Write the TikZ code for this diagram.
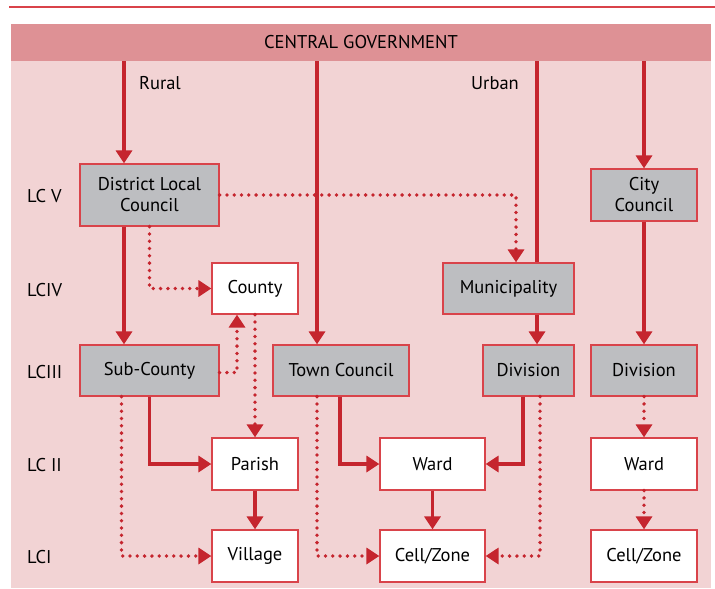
\documentclass[tikz,border=0pt]{standalone}
\usepackage{fontspec}
\setmainfont{PT Sans}
\usetikzlibrary{arrows.meta,positioning}
\definecolor{linered}{HTML}{C5252E}
\definecolor{edgered}{HTML}{D9434A}
\definecolor{bgpink}{HTML}{F2D3D4}
\definecolor{headpink}{HTML}{DE9195}
\definecolor{boxgrey}{HTML}{BDBEC1}

\begin{document}
\begin{tikzpicture}[x=1pt,y=-1pt,>={Triangle[width=16pt,length=13pt]},
  every node/.style={font=\fontsize{18.5}{21}\selectfont,inner sep=0pt},
  box/.style={draw=edgered,line width=1.2pt,minimum height=51pt,align=center},
  grey/.style={box,fill=boxgrey},
  white/.style={box,fill=white},
  flow/.style={draw=linered,line width=3.5pt},
  link/.style={draw=linered,line width=3.8pt,line cap=round,dash pattern=on 0pt off 7.3pt}]

  \useasboundingbox (0,0) rectangle (715,589);
  \fill[bgpink] (11,24) rectangle (711,588);
  \draw[edgered,line width=1.2pt] (9,7) -- (715,7);

  \node[fill=headpink,minimum width=700pt,minimum height=37pt] (gov) at (361,42.5) {CENTRAL GOVERNMENT};
  \node[anchor=west] (rurallabel) at (139,83) {Rural};
  \node[anchor=east] (urbanlabel) at (519,83) {Urban};

  \node[anchor=west] (lc5) at (27,196) {LC V};
  \node[anchor=west] (lc4) at (27,290) {LCIV};
  \node[anchor=west] (lc3) at (27,372) {LCIII};
  \node[anchor=west] (lc2) at (27,465) {LC II};
  \node[anchor=west] (lc1) at (27,557) {LCI};

  \node[grey,minimum width=139pt,minimum height=62pt] (district) at (149.5,195) {District Local\\Council};
  \node[white,minimum width=86pt] (county) at (255,288.5) {County};
  \node[grey,minimum width=139pt] (subcounty) at (149.5,370.5) {Sub-County};
  \node[white,minimum width=86pt,minimum height=52pt] (parish) at (255,464) {Parish};
  \node[white,minimum width=86pt,minimum height=52pt] (village) at (255,556) {Village};

  \node[grey,minimum width=136pt] (town) at (341,370.5) {Town Council};
  \node[white,minimum width=105pt,minimum height=52pt] (ward) at (432.5,464) {Ward};
  \node[white,minimum width=105pt,minimum height=52pt] (cell) at (432.5,556) {Cell/Zone};

  \node[grey,minimum width=131pt] (muni) at (508.5,288.5) {Municipality};
  \node[grey,minimum width=91pt] (division) at (528.5,370.5) {Division};

  \node[grey,minimum width=106pt,minimum height=52pt] (city) at (644,195) {City\\Council};
  \node[grey,minimum width=106pt] (citydiv) at (644,370.5) {Division};
  \node[white,minimum width=106pt,minimum height=52pt] (cityward) at (644,464) {Ward};
  \node[white,minimum width=106pt,minimum height=52pt] (citycell) at (644,556) {Cell/Zone};

  \coordinate (rural) at (124,61);
  \coordinate (townline) at (317,61);
  \coordinate (urban) at (537,61);
  \coordinate (cityline) at (644,61);

  \draw[flow,->] (rural) -- (rural |- district.north);
  \draw[flow,->] (townline) -- (townline |- town.north);
  \draw[flow] (urban) -- (urban |- muni.north);
  \draw[flow,->] (cityline) -- (city.north);

  \draw[flow,->] (rural |- district.south) -- (rural |- subcounty.north);
  \draw[flow,->] (urban |- muni.south) -- (urban |- division.north);
  \draw[flow,->] (subcounty.south) |- (parish.west);
  \draw[flow,->] ([xshift=-1pt]town.south) |- (ward.west);
  \draw[flow,->] ([xshift=-5.5pt]division.south) |- (ward.east);

  \path (parish) edge[flow,->] (village)
        (ward) edge[flow,->] (cell)
        (city) edge[flow,->] (citydiv);

  \draw[link,->] (district.south) |- (county.west);
  \draw[link,->] (district.east) -| ([xshift=7.5pt]muni.north);
  \draw[link,->] ([yshift=-2pt]subcounty.east) -| ([xshift=-18pt]county.south);
  \draw[link,->] ([xshift=-28pt]subcounty.south) |- (village.west);
  \draw[link,->] (townline |- town.south) |- (cell.west);
  \draw[link,->] ([xshift=11.5pt]division.south) |- (cell.east);

  \path (county) edge[link,->] (parish)
        (citydiv) edge[link,->] (cityward)
        (cityward) edge[link,->] (citycell);

\end{tikzpicture}
\end{document}
